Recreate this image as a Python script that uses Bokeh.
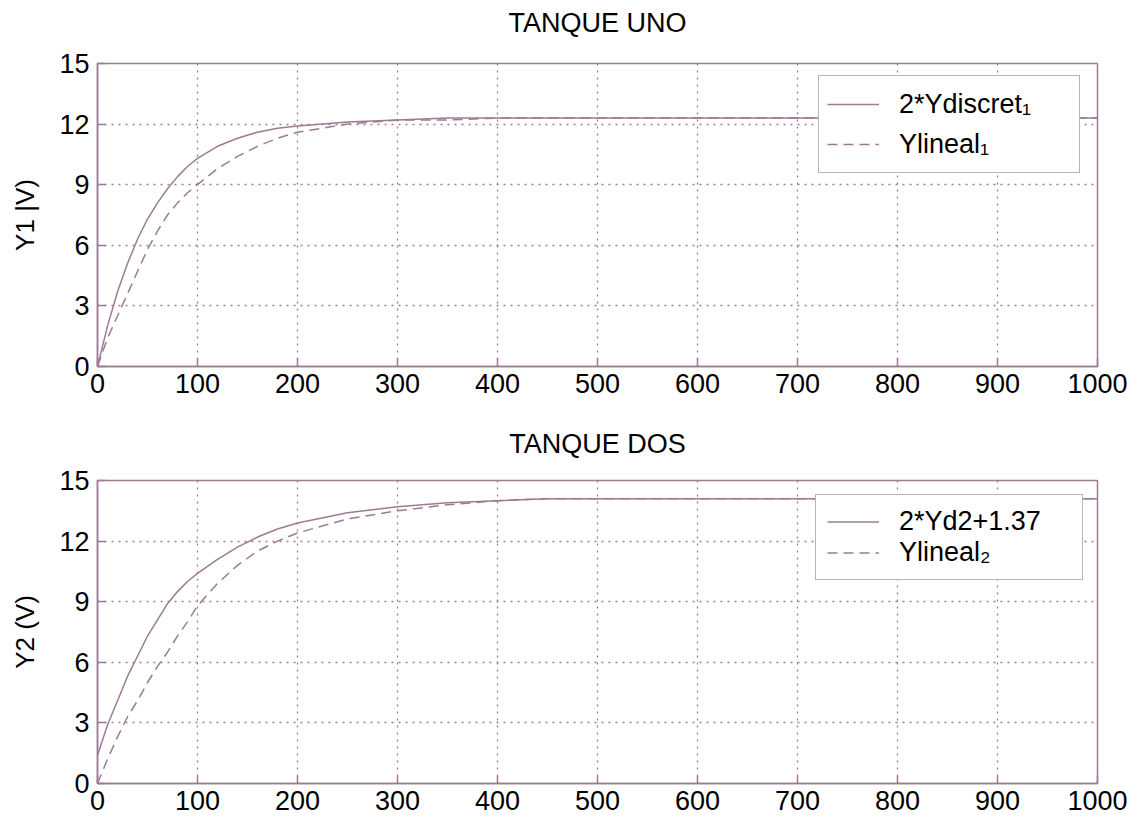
from bokeh.plotting import figure
from bokeh.models import Range1d, FixedTicker, Legend, LegendItem, ColumnDataSource, LinearAxis
from bokeh.layouts import column
from bokeh.embed import file_html
from bokeh.resources import INLINE

# ---- data ----
t = [0, 10, 20, 30, 40, 50, 60, 70, 80, 90, 100, 120, 140, 160, 180, 200,
     250, 300, 350, 400, 450, 500, 600, 700, 800, 900, 1000]

y_discret1 = [0.0, 2.0, 3.7, 5.1, 6.3, 7.3, 8.1, 8.8, 9.4, 9.9, 10.3, 10.9, 11.3, 11.6, 11.8, 11.9,
              12.1, 12.2, 12.3, 12.3, 12.3, 12.3, 12.3, 12.3, 12.3, 12.3, 12.3]
y_lineal1 = [0.0, 1.4, 2.5, 3.6, 4.7, 5.8, 6.7, 7.5, 8.1, 8.6, 9.0, 9.8, 10.4, 10.9, 11.3, 11.6,
             12.0, 12.2, 12.2, 12.3, 12.3, 12.3, 12.3, 12.3, 12.3, 12.3, 12.3]

y_d2 = [1.4, 2.9, 4.1, 5.3, 6.3, 7.3, 8.1, 8.9, 9.5, 10.0, 10.4, 11.1, 11.7, 12.2, 12.6, 12.9,
        13.4, 13.7, 13.9, 14.0, 14.1, 14.1, 14.1, 14.1, 14.1, 14.1, 14.1]
y_lineal2 = [0.0, 1.2, 2.3, 3.3, 4.1, 5.0, 5.8, 6.5, 7.3, 8.0, 8.8, 9.9, 10.8, 11.5, 12.0, 12.4,
             13.1, 13.5, 13.8, 14.0, 14.1, 14.1, 14.1, 14.1, 14.1, 14.1, 14.1]

x_ticks = [0, 100, 200, 300, 400, 500, 600, 700, 800, 900, 1000]
y_ticks = [0, 3, 6, 9, 12, 15]

titles = ["TANQUE UNO", "TANQUE DOS"]
ylabels = ["Y1 |V)", "Y2 (V)"]
labels1 = ["2*Ydiscret\u2081", "Ylineal\u2081"]
labels2 = ["2*Yd2+1.37", "Ylineal\u2082"]

C = "#9c7b93"
FONT = "Liberation Sans"


def style_axis(ax):
    ax.axis_line_color = C
    ax.axis_line_width = 1.5
    ax.major_tick_line_color = C
    ax.major_tick_line_width = 1.5
    ax.major_tick_in = 8
    ax.major_tick_out = 0
    ax.minor_tick_line_color = None
    ax.major_label_text_font = FONT
    ax.major_label_text_font_size = "27px"
    ax.major_label_text_color = "black"
    ax.axis_label_text_font = FONT
    ax.axis_label_text_font_size = "26px"
    ax.axis_label_text_font_style = "normal"
    ax.axis_label_text_color = "black"


def make(title, ylabel, ya, yb, labels, top, bottom, loc, lab_h, pad, t_standoff):
    p = figure(frame_width=1000, frame_height=303, output_backend="svg", toolbar_location=None,
               x_range=Range1d(0, 1000), y_range=Range1d(0, 15),
               min_border_left=97, min_border_right=40, min_border_top=top, min_border_bottom=bottom)
    p.title.text = ""
    p.title.standoff = 0
    p.outline_line_color = C
    p.outline_line_width = 1.5
    p.background_fill_color = "white"
    p.border_fill_color = "white"

    xb = p.below[0]
    yl = p.left[0]
    style_axis(xb)
    style_axis(yl)
    xb.ticker = FixedTicker(ticks=x_ticks)
    yl.ticker = FixedTicker(ticks=y_ticks)
    xb.major_label_standoff = 7
    yl.major_label_standoff = 8
    yl.axis_label = ylabel
    yl.axis_label_standoff = 16

    # title: label of a tick-less axis above the frame
    tax = LinearAxis(ticker=FixedTicker(ticks=[]), axis_label=title)
    tax.axis_line_color = None
    tax.major_tick_line_color = None
    tax.minor_tick_line_color = None
    tax.major_tick_in = 0
    tax.major_tick_out = 0
    tax.minor_tick_in = 0
    tax.minor_tick_out = 0
    tax.major_label_standoff = 0
    tax.axis_label_text_font = FONT
    tax.axis_label_text_font_size = "27px"
    tax.axis_label_text_font_style = "normal"
    tax.axis_label_text_color = "black"
    tax.axis_label_standoff = t_standoff
    p.add_layout(tax, "above")

    p.grid.grid_line_color = C
    p.grid.grid_line_dash = "2 5"
    p.grid.grid_line_width = 1.3
    p.xgrid.ticker = FixedTicker(ticks=x_ticks)
    p.ygrid.ticker = FixedTicker(ticks=y_ticks)

    src = ColumnDataSource(dict(t=t, a=ya, b=yb))
    ra = p.line("t", "a", source=src, line_color=C, line_width=1.5)
    rb = p.line("t", "b", source=src, line_color=C, line_width=1.5, line_dash="10 6")

    leg = Legend(items=[LegendItem(label=labels[0], renderers=[ra]),
                        LegendItem(label=labels[1], renderers=[rb])],
                 location=loc)
    leg.label_text_font = FONT
    leg.label_text_font_size = "27px"
    leg.label_text_color = "black"
    leg.border_line_color = "#6e6e6e"
    leg.border_line_width = 1.5
    leg.background_fill_color = "white"
    leg.background_fill_alpha = 1.0
    leg.glyph_width = 52
    leg.label_standoff = 20
    leg.label_width = 172
    leg.padding = pad
    leg.spacing = 0
    leg.label_height = lab_h
    leg.glyph_height = lab_h
    leg.margin = 0
    p.add_layout(leg, "center")
    return p


p1 = make(titles[0], ylabels[0], y_discret1, y_lineal1, labels1, 63, 54, (721, 193), 40, 8, 26)
p2 = make(titles[1], ylabels[1], y_d2, y_lineal2, labels2, 60, 35, (718, 203), 31, 11, 22)

layout = column(p1, p2, spacing=0)
open("out.html", "w").write(file_html(layout, INLINE))
